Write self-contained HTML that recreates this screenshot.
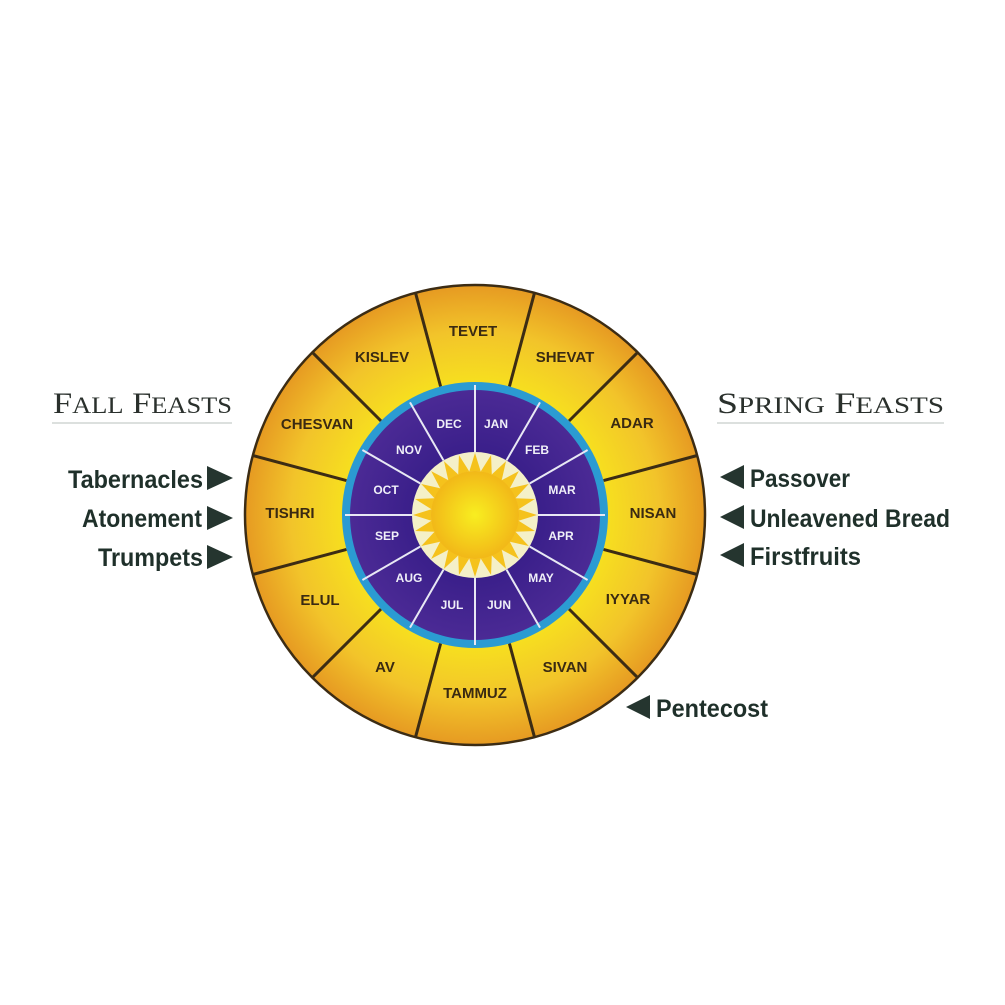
<!DOCTYPE html>
<html><head><meta charset="utf-8"><style>html,body{margin:0;padding:0;background:#fff}svg{display:block}</style></head>
<body>
<svg width="1005" height="1005" viewBox="0 0 1005 1005" xmlns="http://www.w3.org/2000/svg">
<defs>
<radialGradient id="og" cx="0.5" cy="0.5" r="0.5">
<stop offset="0.55" stop-color="#f7e21e"/><stop offset="0.8" stop-color="#f2c42a"/><stop offset="1" stop-color="#e69a22"/>
</radialGradient>
<radialGradient id="pg" cx="0.5" cy="0.5" r="0.5">
<stop offset="0.5" stop-color="#3a1f8a"/><stop offset="1" stop-color="#4b2a95"/>
</radialGradient>
<radialGradient id="sg" cx="0.5" cy="0.5" r="0.5">
<stop offset="0" stop-color="#f8ee20"/><stop offset="1" stop-color="#f2b818"/>
</radialGradient>
<polygon id="ray" points="475,453 469.3,471.4 480.7,471.4" fill="#f5c21c"/>
</defs>
<circle cx="475" cy="515" r="230" fill="url(#og)" stroke="#3c2c14" stroke-width="2.5"/>
<g stroke="#3c2c14" stroke-width="3">
<line x1="509.4" y1="386.5" x2="534.5" y2="292.8"/>
<line x1="569" y1="421" x2="637.6" y2="352.4"/>
<line x1="603.5" y1="480.6" x2="697.2" y2="455.5"/>
<line x1="603.5" y1="549.4" x2="697.2" y2="574.5"/>
<line x1="569" y1="609" x2="637.6" y2="677.6"/>
<line x1="509.4" y1="643.5" x2="534.5" y2="737.2"/>
<line x1="440.6" y1="643.5" x2="415.5" y2="737.2"/>
<line x1="381" y1="609" x2="312.4" y2="677.6"/>
<line x1="346.5" y1="549.4" x2="252.8" y2="574.5"/>
<line x1="346.5" y1="480.6" x2="252.8" y2="455.5"/>
<line x1="381" y1="421" x2="312.4" y2="352.4"/>
<line x1="440.6" y1="386.5" x2="415.5" y2="292.8"/>
</g>
<circle cx="475" cy="515" r="133" fill="#2b9bd2"/>
<circle cx="475" cy="515" r="125" fill="url(#pg)"/>
<g stroke="#e8e8f4" stroke-width="2">
<line x1="475" y1="452" x2="475" y2="385"/>
<line x1="506.5" y1="460.4" x2="540" y2="402.4"/>
<line x1="529.6" y1="483.5" x2="587.6" y2="450"/>
<line x1="538" y1="515" x2="605" y2="515"/>
<line x1="529.6" y1="546.5" x2="587.6" y2="580"/>
<line x1="506.5" y1="569.6" x2="540" y2="627.6"/>
<line x1="475" y1="578" x2="475" y2="645"/>
<line x1="443.5" y1="569.6" x2="410" y2="627.6"/>
<line x1="420.4" y1="546.5" x2="362.4" y2="580"/>
<line x1="412" y1="515" x2="345" y2="515"/>
<line x1="420.4" y1="483.5" x2="362.4" y2="450"/>
<line x1="443.5" y1="460.4" x2="410" y2="402.4"/>
</g>
<circle cx="475" cy="515" r="63" fill="#f4f0c8"/>
<g>
<use href="#ray"/>
<use href="#ray" transform="rotate(15 475 515)"/>
<use href="#ray" transform="rotate(30 475 515)"/>
<use href="#ray" transform="rotate(45 475 515)"/>
<use href="#ray" transform="rotate(60 475 515)"/>
<use href="#ray" transform="rotate(75 475 515)"/>
<use href="#ray" transform="rotate(90 475 515)"/>
<use href="#ray" transform="rotate(105 475 515)"/>
<use href="#ray" transform="rotate(120 475 515)"/>
<use href="#ray" transform="rotate(135 475 515)"/>
<use href="#ray" transform="rotate(150 475 515)"/>
<use href="#ray" transform="rotate(165 475 515)"/>
<use href="#ray" transform="rotate(180 475 515)"/>
<use href="#ray" transform="rotate(195 475 515)"/>
<use href="#ray" transform="rotate(210 475 515)"/>
<use href="#ray" transform="rotate(225 475 515)"/>
<use href="#ray" transform="rotate(240 475 515)"/>
<use href="#ray" transform="rotate(255 475 515)"/>
<use href="#ray" transform="rotate(270 475 515)"/>
<use href="#ray" transform="rotate(285 475 515)"/>
<use href="#ray" transform="rotate(300 475 515)"/>
<use href="#ray" transform="rotate(315 475 515)"/>
<use href="#ray" transform="rotate(330 475 515)"/>
<use href="#ray" transform="rotate(345 475 515)"/>
</g>
<circle cx="475" cy="515" r="44" fill="url(#sg)"/>
<g font-family="Liberation Sans, sans-serif" font-weight="bold" font-size="15" fill="#3a2a12" text-anchor="middle">
<text x="473" y="336">TEVET</text>
<text x="565" y="362">SHEVAT</text>
<text x="632" y="428">ADAR</text>
<text x="653" y="518">NISAN</text>
<text x="628" y="604">IYYAR</text>
<text x="565" y="672">SIVAN</text>
<text x="475" y="698">TAMMUZ</text>
<text x="385" y="672">AV</text>
<text x="320" y="605">ELUL</text>
<text x="290" y="518">TISHRI</text>
<text x="317" y="429">CHESVAN</text>
<text x="382" y="362">KISLEV</text>
</g>
<g font-family="Liberation Sans, sans-serif" font-weight="bold" font-size="12" fill="#f0f0f8" text-anchor="middle">
<text x="496" y="428">JAN</text>
<text x="537" y="454">FEB</text>
<text x="562" y="494">MAR</text>
<text x="561" y="540">APR</text>
<text x="541" y="582">MAY</text>
<text x="499" y="609">JUN</text>
<text x="452" y="609">JUL</text>
<text x="409" y="582">AUG</text>
<text x="387" y="540">SEP</text>
<text x="386" y="494">OCT</text>
<text x="409" y="454">NOV</text>
<text x="449" y="428">DEC</text>
</g>

<g font-family="Liberation Serif, serif" fill="#2a302c">
<text x="53" y="413" font-size="30" textLength="179" lengthAdjust="spacingAndGlyphs">F<tspan font-size="23">ALL</tspan> F<tspan font-size="23">EASTS</tspan></text>
<text x="717" y="413" font-size="30" textLength="227" lengthAdjust="spacingAndGlyphs">S<tspan font-size="23">PRING</tspan> F<tspan font-size="23">EASTS</tspan></text>
</g>
<line x1="52" y1="423" x2="232" y2="423" stroke="#b8c0bc" stroke-width="1"/>
<line x1="717" y1="423" x2="944" y2="423" stroke="#b8c0bc" stroke-width="1"/>

<g font-family="Liberation Sans, sans-serif" font-weight="bold" font-size="25" fill="#1f302a">
<text x="68" y="488" textLength="135" lengthAdjust="spacingAndGlyphs">Tabernacles</text>
<text x="82" y="527" textLength="120" lengthAdjust="spacingAndGlyphs">Atonement</text>
<text x="98" y="566" textLength="105" lengthAdjust="spacingAndGlyphs">Trumpets</text>
<text x="750" y="487" textLength="100" lengthAdjust="spacingAndGlyphs">Passover</text>
<text x="750" y="527" textLength="200" lengthAdjust="spacingAndGlyphs">Unleavened Bread</text>
<text x="750" y="565" textLength="111" lengthAdjust="spacingAndGlyphs">Firstfruits</text>
<text x="656" y="717" textLength="112" lengthAdjust="spacingAndGlyphs">Pentecost</text>
</g>
<g fill="#25352f">
<polygon points="207,466 233,478 207,490"/>
<polygon points="207,506 233,518 207,530"/>
<polygon points="207,545 233,557 207,569"/>
<polygon points="744,465 720,477 744,489"/>
<polygon points="744,505 720,517 744,529"/>
<polygon points="744,543 720,555 744,567"/>
<polygon points="650,695 626,707 650,719"/>
</g>
</svg>
</body></html>
